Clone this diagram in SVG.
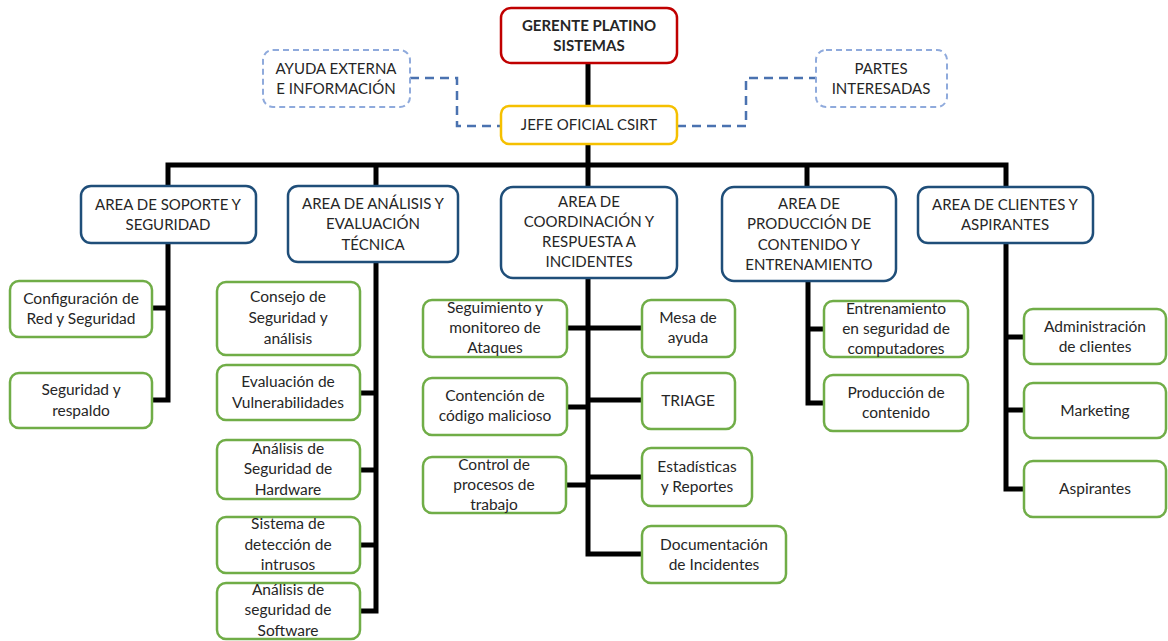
<svg xmlns="http://www.w3.org/2000/svg" width="1168" height="641" viewBox="0 0 1168 641">
<style>
  text { font-family: Lato, "Open Sans", "Liberation Sans", sans-serif; font-size: 15px; fill: #262626; text-anchor: middle; }
  .leafg text { font-size: 15.5px; }
  .b { font-weight: bold; }
  .top { fill: #fff; stroke: #c00000; stroke-width: 2.5; }
  .jefe { fill: #fff; stroke: #f5c000; stroke-width: 2.5; }
  .ext { fill: #fff; stroke: #8faadc; stroke-width: 2; stroke-dasharray: 6 4; }
  .area { fill: #fff; stroke: #1f4e79; stroke-width: 2.5; }
  .leaf { fill: #fff; stroke: #70ad47; stroke-width: 2.5; }
  .ln { fill: none; stroke: #000; stroke-width: 5; }
  .dash { fill: none; stroke: #4a72b0; stroke-width: 2.5; stroke-dasharray: 9 6; }
</style>
<rect width="1168" height="641" fill="#fff"/>
<g id="connectors">
  <path class="ln" d="M588,63 V106 M588,144 V187 M165.5,165 H1008.5 M168,165 V186 M376,165 V186 M807,165 V187 M1006,165 V187"/>
  <path class="ln" d="M168,243 V400 H152 M152,308 H168"/>
  <path class="ln" d="M376,262 V611 H360 M360,393 H376 M360,470 H376 M360,545 H376"/>
  <path class="ln" d="M588,278 V554 H642 M567,328 H642 M567,407 H588 M588,400 H642 M566,485 H588 M588,477 H642"/>
  <path class="ln" d="M808,281 V403 H824 M808,329 H824"/>
  <path class="ln" d="M1006,243 V489 H1024 M1006,337 H1024 M1006,410 H1024"/>
  <path class="dash" d="M410,78 H457 V126 H501"/>
  <path class="dash" d="M677,126 H746 V78 H816"/>
</g>
<g id="gerente"><rect class="top" x="501" y="8" width="176" height="55" rx="10"/><text class="b" x="589" y="31">GERENTE PLATINO</text><text class="b" x="589" y="51">SISTEMAS</text></g>
<g id="jefe"><rect class="jefe" x="501" y="106" width="176" height="38" rx="8"/><text x="589" y="130">JEFE OFICIAL CSIRT</text></g>
<g id="ayuda"><rect class="ext" x="263" y="50" width="147" height="57" rx="10"/><text x="336" y="74">AYUDA EXTERNA</text><text x="336" y="94">E INFORMACIÓN</text></g>
<g id="partes"><rect class="ext" x="816" y="50" width="131" height="57" rx="10"/><text x="881" y="74">PARTES</text><text x="881" y="94">INTERESADAS</text></g>

<g id="area-soporte"><rect class="area" x="81" y="186" width="175" height="57" rx="10"/><text x="168" y="210">AREA DE SOPORTE Y</text><text x="168" y="230">SEGURIDAD</text></g>
<g id="area-analisis"><rect class="area" x="288" y="186" width="170" height="76" rx="10"/><text x="373" y="209">AREA DE ANÁLISIS Y</text><text x="373" y="229">EVALUACIÓN</text><text x="373" y="250">TÉCNICA</text></g>
<g id="area-coordinacion"><rect class="area" x="501" y="187" width="176" height="91" rx="12"/><text x="589" y="207">AREA DE</text><text x="589" y="227">COORDINACIÓN Y</text><text x="589" y="247">RESPUESTA A</text><text x="589" y="267">INCIDENTES</text></g>
<g id="area-produccion"><rect class="area" x="722" y="187" width="174" height="94" rx="12"/><text x="809" y="209">AREA DE</text><text x="809" y="229">PRODUCCIÓN DE</text><text x="809" y="250">CONTENIDO Y</text><text x="809" y="270">ENTRENAMIENTO</text></g>
<g id="area-clientes"><rect class="area" x="918" y="187" width="175" height="56" rx="10"/><text x="1005" y="210">AREA DE CLIENTES Y</text><text x="1005" y="230">ASPIRANTES</text></g>

<g class="leafg">
<g id="configuracion"><rect class="leaf" x="10" y="281" width="142" height="56" rx="9"/><text x="81" y="304">Configuración de</text><text x="81" y="324">Red y Seguridad</text></g>
<g id="respaldo"><rect class="leaf" x="10" y="373" width="142" height="55" rx="9"/><text x="81" y="395">Seguridad y</text><text x="81" y="416">respaldo</text></g>

<g id="consejo"><rect class="leaf" x="217" y="282" width="143" height="73" rx="9"/><text x="288" y="302">Consejo de</text><text x="288" y="323">Seguridad y</text><text x="288" y="344">análisis</text></g>
<g id="evaluacion"><rect class="leaf" x="217" y="365" width="143" height="55" rx="9"/><text x="288" y="387">Evaluación de</text><text x="288" y="408">Vulnerabilidades</text></g>
<g id="hardware"><rect class="leaf" x="217" y="440" width="143" height="59" rx="9"/><text x="288" y="454">Análisis de</text><text x="288" y="474">Seguridad de</text><text x="288" y="495">Hardware</text></g>
<g id="intrusos"><rect class="leaf" x="217" y="517" width="143" height="56" rx="9"/><text x="288" y="529">Sistema de</text><text x="288" y="550">detección de</text><text x="288" y="570">intrusos</text></g>
<g id="software"><rect class="leaf" x="217" y="583" width="143" height="56" rx="9"/><text x="288" y="595">Análisis de</text><text x="288" y="615">seguridad de</text><text x="288" y="636">Software</text></g>

<g id="seguimiento"><rect class="leaf" x="423" y="300" width="144" height="57" rx="9"/><text x="495" y="313">Seguimiento y</text><text x="495" y="333">monitoreo de</text><text x="495" y="353">Ataques</text></g>
<g id="mesa"><rect class="leaf" x="642" y="300" width="93" height="57" rx="9"/><text x="688" y="323">Mesa de</text><text x="688" y="343">ayuda</text></g>
<g id="contencion"><rect class="leaf" x="423" y="378" width="144" height="57" rx="9"/><text x="495" y="401">Contención de</text><text x="495" y="421">código malicioso</text></g>
<g id="triage"><rect class="leaf" x="642" y="373" width="93" height="56" rx="9"/><text x="688" y="406">TRIAGE</text></g>
<g id="control"><rect class="leaf" x="423" y="457" width="143" height="56" rx="9"/><text x="494" y="470">Control de</text><text x="494" y="490">procesos de</text><text x="494" y="510">trabajo</text></g>
<g id="estadisticas"><rect class="leaf" x="642" y="448" width="110" height="58" rx="9"/><text x="697" y="472">Estadísticas</text><text x="697" y="492">y Reportes</text></g>
<g id="documentacion"><rect class="leaf" x="642" y="526" width="144" height="57" rx="9"/><text x="714" y="550">Documentación</text><text x="714" y="570">de Incidentes</text></g>

<g id="entrenamiento"><rect class="leaf" x="824" y="301" width="144" height="56" rx="9"/><text x="896" y="314">Entrenamiento</text><text x="896" y="334">en seguridad de</text><text x="896" y="354">computadores</text></g>
<g id="produccion-contenido"><rect class="leaf" x="824" y="375" width="144" height="56" rx="9"/><text x="896" y="398">Producción de</text><text x="896" y="418">contenido</text></g>

<g id="administracion"><rect class="leaf" x="1024" y="309" width="142" height="55" rx="9"/><text x="1095" y="332">Administración</text><text x="1095" y="352">de clientes</text></g>
<g id="marketing"><rect class="leaf" x="1024" y="383" width="142" height="55" rx="9"/><text x="1095" y="416">Marketing</text></g>
<g id="aspirantes"><rect class="leaf" x="1024" y="461" width="142" height="56" rx="9"/><text x="1095" y="494">Aspirantes</text></g>
</g>
</svg>
